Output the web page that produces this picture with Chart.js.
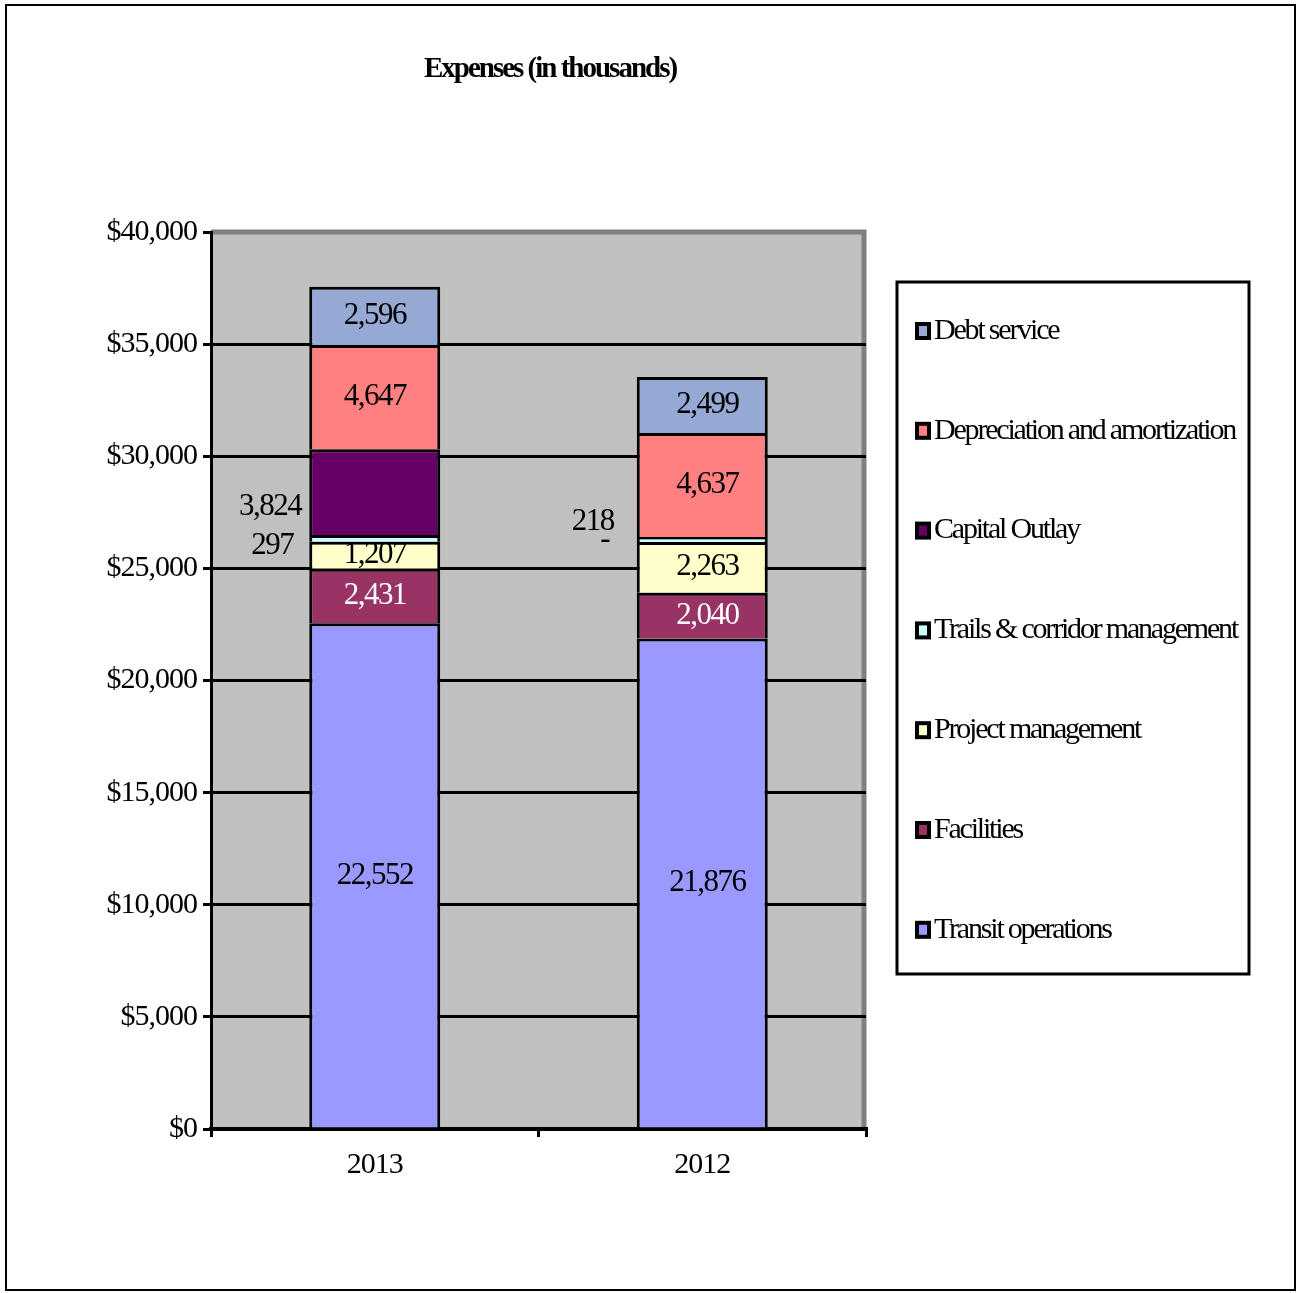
<!DOCTYPE html>
<html>
<head>
<meta charset="utf-8">
<script src="https://cdn.jsdelivr.net/npm/chart.js@4.4.1/dist/chart.umd.min.js"></script>
<style>
  html, body { margin: 0; padding: 0; background: #fff; }
  canvas { display: block; }
</style>
</head>
<body>
<canvas id="chart" width="1297" height="1293"></canvas>
<script>
// values (in thousands)
const years = ["2013", "2012"];
const transitOps = [22552, 21876];
const facilities = [2431, 2040];
const projectMgmt = [1207, 2263];
const trails = [297, 218];
const capitalOutlay = [3824, 0];
const depreciation = [4647, 4637];
const debtService = [2596, 2499];

const seriesNames = [
  "Transit operations",
  "Facilities",
  "Project management",
  "Trails & corridor management",
  "Capital Outlay",
  "Depreciation and amortization",
  "Debt service",
];
const seriesColors = ["#9999FF", "#993366", "#FFFFCC", "#CCFFFF", "#660066", "#FF8080", "#96A9D4"];
const labelColors = ["#000", "#fff", "#000", "#000", "#000", "#000", "#000"];
const seriesData = [transitOps, facilities, projectMgmt, trails, capitalOutlay, depreciation, debtService];

const titleText = "Expenses (in thousands)";
const SERIF = "'Liberation Serif', 'Times New Roman', serif";

// a few labels sit beside the bar instead of inside it
const outsideLabels = {
  "3-0": { gap: 16, dy: 8 },
  "4-0": { gap: 8, dy: 15 },
  "3-1": { gap: 23, dy: -18 },
  "4-1": { gap: 32, dy: 3, center: true },
};

function drawText(ctx, text, x, y, font, color, align, spacing) {
  ctx.save();
  ctx.font = font;
  ctx.fillStyle = color;
  ctx.textAlign = align;
  ctx.textBaseline = "middle";
  ctx.letterSpacing = spacing;
  ctx.fillText(text, x, y);
  ctx.restore();
}

const framePlugin = {
  id: "frame",
  beforeDraw(chart) {
    const ctx = chart.ctx;
    const a = chart.chartArea;
    ctx.save();
    ctx.fillStyle = "#fff";
    ctx.fillRect(0, 0, chart.width, chart.height);
    ctx.strokeStyle = "#000";
    ctx.lineWidth = 2;
    ctx.strokeRect(6, 5, 1289, 1285);
    // plot background
    ctx.fillStyle = "#C0C0C0";
    ctx.fillRect(a.left, a.top, a.right - a.left, a.bottom - a.top);
    ctx.strokeStyle = "#808080";
    ctx.lineWidth = 5;
    ctx.beginPath();
    ctx.moveTo(a.left, a.top);
    ctx.lineTo(a.right - 2, a.top);
    ctx.lineTo(a.right - 2, a.bottom);
    ctx.stroke();
    ctx.restore();
    // slightly condensed tick labels
    ctx.letterSpacing = "-1px";

    drawText(ctx, titleText, 550, 70, "bold 29px " + SERIF, "#000", "center", "-2px");
  },
  afterDatasetsDraw(chart) {
    const ctx = chart.ctx;
    chart.data.datasets.forEach((ds, di) => {
      const meta = chart.getDatasetMeta(di);
      meta.data.forEach((el, i) => {
        const v = ds.data[i];
        const txt = v === 0 ? "-" : v.toLocaleString("en-US");
        const cy = (el.y + el.base) / 2;
        const o = outsideLabels[di + "-" + i];
        const font = "31px " + SERIF;
        if (o) {
          const left = el.x - el.width / 2 - o.gap;
          drawText(ctx, txt, left, cy + o.dy, font, "#000", o.center ? "center" : "right", "-1.5px");
        } else {
          drawText(ctx, txt, el.x + (i === 1 ? 5 : 0), cy, font, labelColors[di], "center", "-1.5px");
        }
      });
    });
  },
  afterDraw(chart) {
    const ctx = chart.ctx;
    ctx.save();
    ctx.strokeStyle = "#000";
    ctx.lineWidth = 3;
    ctx.strokeRect(897, 282, 352, 692);
    const n = chart.data.datasets.length;
    for (let k = 0; k < n; k++) {
      const di = n - 1 - k;
      const ds = chart.data.datasets[di];
      const y = 331 + k * 99.8;
      ctx.fillStyle = "#000";
      ctx.fillRect(915, y - 9, 16, 18);
      ctx.fillStyle = ds.backgroundColor;
      ctx.fillRect(919, y - 5, 8, 10);
      drawText(ctx, ds.label, 934, y, "30px " + SERIF, "#000", "left", "-2.2px");
    }
    ctx.restore();
  },
};

const datasets = seriesNames.map((name, i) => ({
  label: name,
  data: seriesData[i],
  backgroundColor: seriesColors[i],
  borderColor: "#000",
  borderWidth: (c) => (c.raw === 0 ? 0 : 3),
  barPercentage: 0.4,
  categoryPercentage: 1,
}));

new Chart(document.getElementById("chart"), {
  type: "bar",
  data: { labels: years, datasets: datasets },
  plugins: [framePlugin],
  options: {
    responsive: false,
    animation: false,
    devicePixelRatio: 1,
    layout: { padding: { left: 0, right: 431, top: 232, bottom: 104 } },
    plugins: {
      legend: { display: false },
      title: { display: false },
      tooltip: { enabled: false },
    },
    scales: {
      x: {
        stacked: true,
        afterFit: (s) => { s.height = 60; },
        grid: {
          offset: true,
          drawOnChartArea: false,
          drawTicks: true,
          tickLength: 8,
          color: "#000",
          lineWidth: 3,
        },
        border: { color: "#000", width: 4 },
        ticks: {
          color: "#000",
          padding: 10,
          font: { family: SERIF, size: 30 },
        },
      },
      y: {
        stacked: true,
        min: 0,
        max: 40000,
        afterFit: (s) => { s.width = 211; },
        grid: {
          color: (c) => (c.tick && c.tick.value === 40000 ? "#808080" : "#000"),
          lineWidth: 3,
          tickColor: "#000",
          tickLength: 8,
        },
        border: { color: "#000", width: 3 },
        ticks: {
          stepSize: 5000,
          color: "#000",
          padding: 6,
          font: { family: SERIF, size: 30 },
          callback: (v) => "$" + v.toLocaleString("en-US"),
        },
      },
    },
  },
});
</script>
</body>
</html>
